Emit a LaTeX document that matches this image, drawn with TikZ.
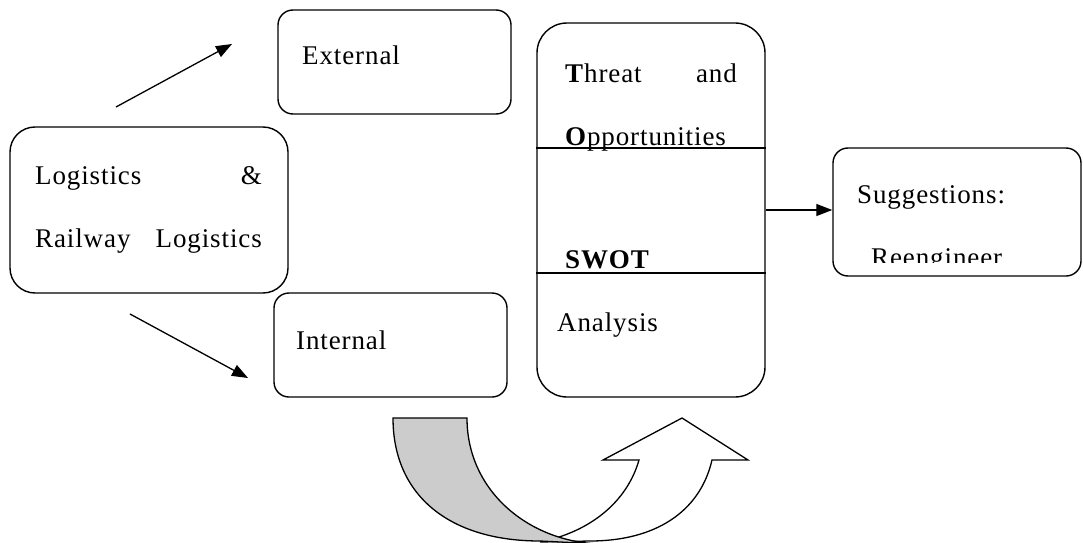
\documentclass[tikz,border=0pt]{standalone}
\usepackage{fontspec}
\setmainfont{Liberation Serif}[LetterSpace=3.3]
\usetikzlibrary{arrows.meta}
\tikzset{
  box/.style={draw, line width=1.4pt, inner sep=0pt},
  txt/.style={anchor=base west, inner sep=0pt, font=\fontsize{27}{32}\selectfont},
  txtr/.style={anchor=base east, inner sep=0pt, font=\fontsize{27}{32}\selectfont},
  conn/.style={line width=1.3pt, -{Triangle[length=16pt,width=12pt]}},
  band/.style={draw, line width=1.3pt, line join=miter}
}
\begin{document}
\begin{tikzpicture}[x=1pt,y=1pt]
\useasboundingbox (0,0) rectangle (1083,542);
% boxes
\node[box, rounded corners=25pt, minimum width=278pt, minimum height=166pt] (log) at (149,332) {};
\node[box, rounded corners=15pt, minimum width=233pt, minimum height=104pt] (ext) at (394.5,480) {};
\node[box, rounded corners=15pt, minimum width=233pt, minimum height=104pt] (int) at (390.5,197) {};
\node[box, rounded corners=30pt, minimum width=228pt, minimum height=374pt] (swot) at (651,332) {};
\node[box, rounded corners=15pt, minimum width=248pt, minimum height=128pt] (sug) at (957,330) {};
% divider lines in the SWOT box
\draw[line width=1.4pt] (swot.west |- 0,394) -- (swot.east |- 0,394);
\draw[line width=1.4pt] (swot.west |- 0,269) -- (swot.east |- 0,269);
% texts
\node[txt] (tlog1) at (35,358) {Logistics};
\node[txtr] (tlog2) at (262,358) {\&};
\node[txt] (tlog3) at (35,295) {Railway};
\node[txtr] (tlog4) at (262,295) {Logistics};
\node[txt] (text) at (302,477) {External};
\node[txt] (tint) at (296,193) {Internal};
\node[txt] (tthr) at (565,459) {\textbf{T}hreat};
\node[txtr] (tand) at (737,459) {and};
\node[txt] (topp) at (565,396) {\textbf{O}pportunities};
\node[txt] (tswot) at (565,274) {\textbf{SWOT}};
\node[txt] (tana) at (557,211) {Analysis};
\node[txt] (tsug) at (857,339) {Suggestions:};
\begin{scope}
\clip (833,280) rectangle (1083,300);
\node[txt] (tree) at (871,276) {Reengineer};
\end{scope}
% connectors
\coordinate (u1) at (116,435);
\coordinate (u2) at (232,498);
\coordinate (d1) at (130,228);
\coordinate (d2) at (248,164);
\draw[conn] (u1) -- (u2);
\draw[conn] (d1) -- (d2);
\draw[conn] (swot.east) -- (sug.west |- swot.east);
% curved arrows
\begin{scope}
\clip (0,0) rectangle (1083,542);
\draw[band, fill=white] (540,0) .. controls (590,10) and (627,40) .. (639,82)
  -- (603,82) -- (682,124) -- (748,82) -- (712,82)
  .. controls (700,30) and (655,1) .. (590,1) -- cycle;
\draw[band, fill=black!20] (393,124) -- (467,124)
  .. controls (467,50) and (530,0) .. (600,-2)
  -- (540,1) .. controls (450,1) and (393,46) .. (393,124) -- cycle;
\end{scope}
\end{tikzpicture}
\end{document}
